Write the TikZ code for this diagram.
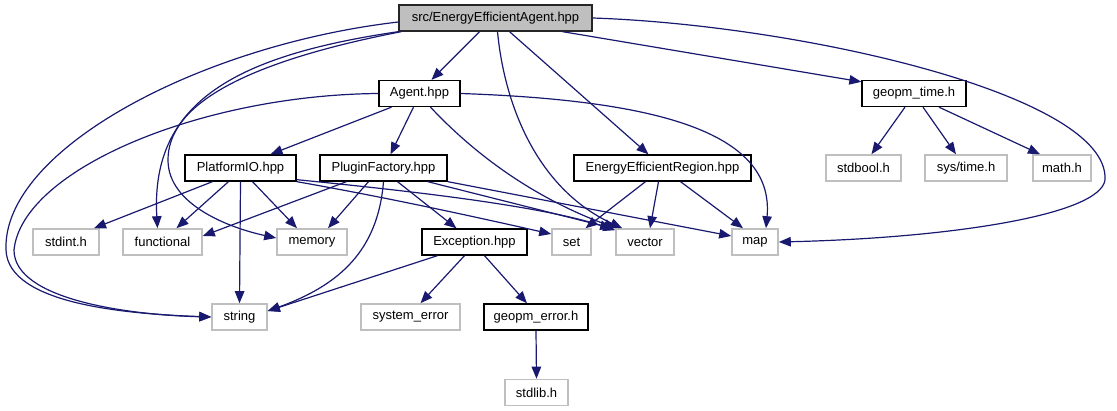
\documentclass[tikz,border=0pt]{standalone}
\usepackage{fontspec}
\setmainfont{Liberation Sans}
\usepackage{tikz}
\usetikzlibrary{arrows.meta}
\definecolor{incEdge}{HTML}{191970}
\definecolor{incMuted}{HTML}{BFBFBF}
\tikzset{
    incBoxBase/.style={
        rectangle,
        draw,
        minimum height=26pt,
        inner sep=0pt,
        font=\fontsize{13}{15}\selectfont,
        align=center,
        line width=1.3pt
    },
    % Include variants
    incMain/.style={incBoxBase, fill=incMuted, draw=black!85},
    incFile/.style={incBoxBase, fill=white, draw=black},
    incSys/.style={incBoxBase, fill=white, draw=incMuted, line width=1.6pt},
    % Arrows
    incArrowBase/.style={-{Triangle[length=12pt,width=9.5pt]}, line width=1.2pt, draw=incEdge}
}

\begin{document}
\begin{tikzpicture}[x=1pt, y=-1pt]
\useasboundingbox (0,0) rectangle (1117,411);

\node[incMain, minimum width=193pt] (eeAgent) at (495.5,18) {src/EnergyEfficientAgent.hpp};

\node[incFile, minimum width=81pt] (agent) at (419.5,93.5) {Agent.hpp};
\node[incFile, minimum width=104pt] (geopmTime) at (914,93.5) {geopm\_time.h};

\node[incFile, minimum width=111pt] (platformIO) at (240.5,168) {PlatformIO.hpp};
\node[incFile, minimum width=127pt] (pluginFactory) at (383.5,168) {PluginFactory.hpp};
\node[incFile, minimum width=177pt] (eeRegion) at (662.5,168) {EnergyEfficientRegion.hpp};
\node[incSys, minimum width=75pt] (stdbool) at (863.5,168) {stdbool.h};
\node[incSys, minimum width=82pt] (sysTime) at (966,168) {sys/time.h};
\node[incSys, minimum width=58pt] (mathH) at (1062,168) {math.h};

\node[incSys, minimum width=66pt] (stdint) at (66,242) {stdint.h};
\node[incSys, minimum width=79pt] (functional) at (162.5,242) {functional};
\node[incSys, minimum width=70pt] (memory) at (312,242) {memory};
\node[incFile, minimum width=105pt] (exception) at (474.5,242) {Exception.hpp};
\node[incSys, minimum width=39pt] (set) at (571.5,242) {set};
\node[incSys, minimum width=58pt] (vector) at (645,242) {vector};
\node[incSys, minimum width=46pt] (map) at (755,242) {map};

\node[incSys, minimum width=55pt] (string) at (239.5,317) {string};
\node[incSys, minimum width=99pt] (systemError) at (410.5,317) {system\_error};
\node[incFile, minimum width=104pt] (geopmError) at (536,317) {geopm\_error.h};

\node[incSys, minimum width=63pt] (stdlib) at (536.5,392.5) {stdlib.h};

\coordinate (mapBend) at (1105,180);

\draw[incArrowBase] ([xshift=-16pt]eeAgent.south) -- ([xshift=12pt]agent.north);
\draw[incArrowBase] ([xshift=67pt]eeAgent.south) -- ([yshift=-2pt]geopmTime.north west);
\draw[incArrowBase] ([xshift=14pt]eeAgent.south) -- ([xshift=-14pt]eeRegion.north);
\draw[incArrowBase] ([xshift=2pt]eeAgent.south) .. controls (505,110) and (540,190) .. ([xshift=7pt]vector.north west);
\draw[incArrowBase] (eeAgent.east) .. controls (800,25) and (1110,95) .. (mapBend) .. controls (1100,215) and (950,238) .. (map.east);
\draw[incArrowBase] ([yshift=-4pt]eeAgent.west) .. controls (200,45) and (2,150) .. (6,250) .. controls (8,305) and (130,314) .. (string.west);
\draw[incArrowBase] (eeAgent.south west) .. controls (240,55) and (150,100) .. ([xshift=-5pt]functional.north);
\draw[incArrowBase] ([xshift=3pt]eeAgent.south west) .. controls (230,65) and (168,110) .. (168,160) .. controls (168,205) and (230,228) .. ([yshift=4pt]memory.west);

\draw[incArrowBase] ([xshift=-28pt]agent.south) -- ([xshift=30pt]platformIO.north);
\draw[incArrowBase] ([xshift=-6pt]agent.south) -- ([xshift=7pt]pluginFactory.north);
\draw[incArrowBase] ([xshift=11pt]agent.south) .. controls (480,160) and (540,200) .. ([xshift=1pt]vector.north west);
\draw[incArrowBase] (agent.east) .. controls (650,100) and (775,130) .. ([xshift=11pt]map.north);
\draw[incArrowBase] (agent.west) .. controls (200,95) and (22,170) .. (14,250) .. controls (14,300) and (130,315) .. (string.west);

\draw[incArrowBase] ([xshift=-9pt]geopmTime.south) -- ([xshift=8pt]stdbool.north);
\draw[incArrowBase] ([xshift=9pt]geopmTime.south) -- ([xshift=-10pt]sysTime.north);
\draw[incArrowBase] ([xshift=25pt]geopmTime.south) -- ([xshift=-22pt]mathH.north);

\draw[incArrowBase] ([xshift=-28pt]platformIO.south) -- ([xshift=28pt]stdint.north);
\draw[incArrowBase] ([xshift=-12pt]platformIO.south) -- ([xshift=14pt]functional.north);
\draw[incArrowBase] (platformIO.south) -- (string.north);
\draw[incArrowBase] ([xshift=12pt]platformIO.south) -- ([xshift=-15pt]memory.north);
\draw[incArrowBase] (platformIO.south east) .. controls (390,198) and (480,218) .. ([yshift=8pt]set.west);
\draw[incArrowBase] ([yshift=2pt]platformIO.south east) .. controls (400,190) and (540,205) .. ([yshift=-2pt]vector.north west);

\draw[incArrowBase] ([xshift=-37pt]pluginFactory.south) -- ([yshift=6pt]functional.east);
\draw[incArrowBase] ([xshift=-15pt]pluginFactory.south) -- ([xshift=16pt]memory.north);
\draw[incArrowBase] (pluginFactory.south) .. controls (378,250) and (340,285) .. ([yshift=6pt]string.east);
\draw[incArrowBase] ([xshift=14pt]pluginFactory.south) -- ([xshift=-18pt]exception.north);
\draw[incArrowBase] ([xshift=-20pt]pluginFactory.south east) -- ([xshift=-3pt]vector.north west);
\draw[incArrowBase] (pluginFactory.south east) -- ([yshift=6pt]map.west);

\draw[incArrowBase] ([xshift=-17pt]eeRegion.south) -- ([xshift=14pt]set.north);
\draw[incArrowBase] ([xshift=-4pt]eeRegion.south) -- ([xshift=5pt]vector.north);
\draw[incArrowBase] ([xshift=18pt]eeRegion.south) -- ([xshift=-12pt]map.north);

\draw[incArrowBase] ([xshift=-37pt]exception.south) -- ([yshift=6pt]string.east);
\draw[incArrowBase] ([xshift=-10pt]exception.south) -- ([xshift=10pt]systemError.north);
\draw[incArrowBase] ([xshift=10pt]exception.south) -- ([xshift=-9pt]geopmError.north);

\draw[incArrowBase] (geopmError.south) -- (stdlib.north);
\end{tikzpicture}
\end{document}
